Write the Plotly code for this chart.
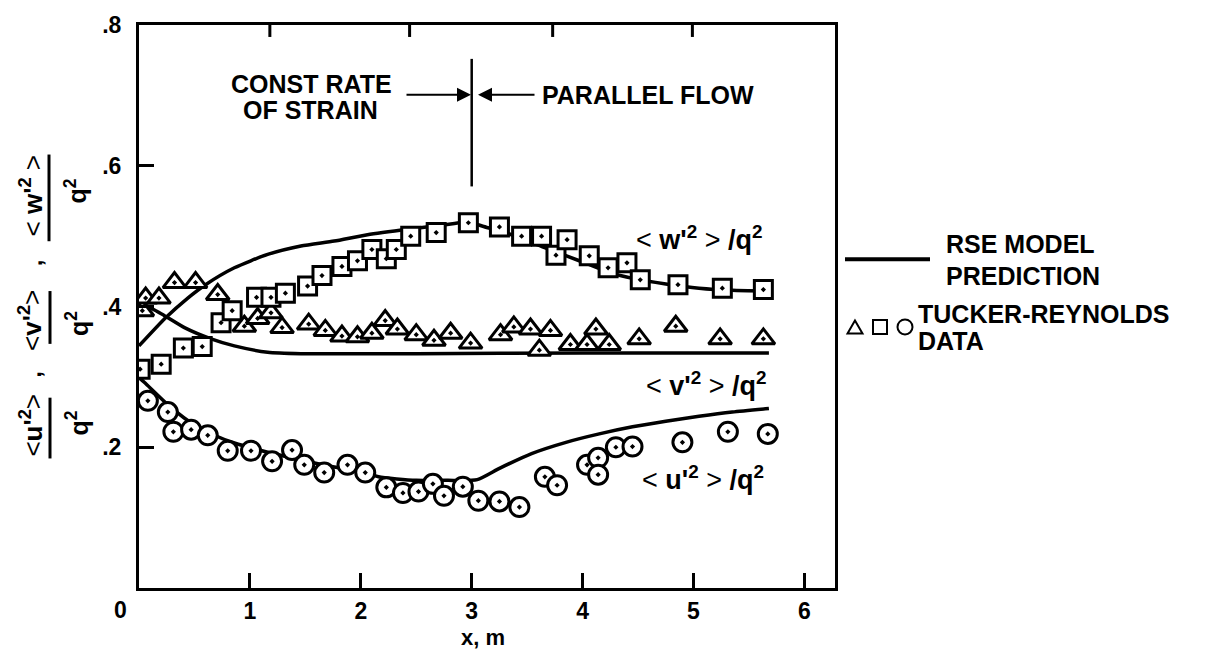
import plotly.graph_objects as go

# ---- measured data (x in metres, y = normalised Reynolds stress) ----
TRI_X = [0.03, 0.06, 0.18, 0.32, 0.51, 0.71, 0.95, 1.07, 1.19, 1.29, 1.53, 1.68, 1.83, 1.97,
         2.10, 2.22, 2.33, 2.50, 2.66, 2.81, 2.99, 3.26, 3.38, 3.53, 3.61, 3.71, 3.89, 4.04,
         4.12, 4.24, 4.51, 4.84, 5.24, 5.63]
TRI_Y = [0.394, 0.412, 0.412, 0.434, 0.434, 0.417, 0.372, 0.383, 0.391, 0.370, 0.375, 0.366,
         0.358, 0.357, 0.362, 0.380, 0.368, 0.360, 0.352, 0.362, 0.348, 0.360, 0.371, 0.368,
         0.338, 0.366, 0.346, 0.346, 0.368, 0.346, 0.354, 0.372, 0.354, 0.354]

SQ_X = [0.01, 0.20, 0.40, 0.57, 0.74, 0.84, 1.06, 1.19, 1.32, 1.52, 1.65, 1.83, 1.97, 2.10,
        2.23, 2.32, 2.45, 2.68, 2.97, 3.25, 3.45, 3.63, 3.76, 3.86, 4.06, 4.23, 4.40, 4.52,
        4.86, 5.26, 5.63]
SQ_Y = [0.311, 0.318, 0.341, 0.343, 0.377, 0.394, 0.413, 0.413, 0.419, 0.429, 0.444, 0.457,
        0.465, 0.481, 0.468, 0.481, 0.500, 0.505, 0.519, 0.513, 0.500, 0.500, 0.473, 0.495,
        0.472, 0.455, 0.462, 0.438, 0.431, 0.426, 0.424]

CIR_X = [0.08, 0.26, 0.31, 0.47, 0.62, 0.80, 1.01, 1.20, 1.38, 1.49, 1.67, 1.88, 2.04, 2.23,
         2.38, 2.52, 2.65, 2.75, 2.92, 3.06, 3.25, 3.43, 3.66, 3.77, 4.04, 4.14, 4.14, 4.30,
         4.45, 4.90, 5.31, 5.67]
CIR_Y = [0.266, 0.250, 0.222, 0.225, 0.217, 0.195, 0.195, 0.180, 0.196, 0.175, 0.164, 0.175,
         0.164, 0.143, 0.135, 0.137, 0.148, 0.131, 0.144, 0.124, 0.123, 0.115, 0.158, 0.146,
         0.175, 0.185, 0.161, 0.200, 0.201, 0.207, 0.222, 0.219]

# RSE model prediction curves
W_X = [0.0, 0.24, 0.44, 0.60, 0.86, 1.16, 1.46, 1.76, 2.06, 2.44, 2.71, 2.97, 3.10, 3.34,
       3.67, 3.97, 4.27, 4.45, 4.75, 5.05, 5.35, 5.68]
W_Y = [0.344, 0.384, 0.412, 0.431, 0.455, 0.474, 0.486, 0.493, 0.502, 0.510, 0.515, 0.520,
       0.514, 0.503, 0.483, 0.465, 0.447, 0.440, 0.432, 0.426, 0.423, 0.422]

V_X = [0.0, 0.23, 0.41, 0.65, 0.86, 1.16, 1.46, 2.5, 4.0, 5.68]
V_Y = [0.407, 0.387, 0.370, 0.354, 0.344, 0.335, 0.333, 0.333, 0.334, 0.334]

U_X = [0.0, 0.05, 0.25, 0.44, 0.68, 0.86, 1.16, 1.46, 1.76, 2.06, 2.16, 2.50, 2.78, 3.05,
       3.25, 3.54, 3.85, 4.15, 4.45, 4.75, 5.05, 5.35, 5.68]
U_Y = [0.299, 0.292, 0.262, 0.238, 0.217, 0.206, 0.193, 0.182, 0.172, 0.164, 0.158, 0.153,
       0.153, 0.154, 0.170, 0.191, 0.207, 0.219, 0.229, 0.237, 0.244, 0.250, 0.255]

X_TICKS = [1, 2, 3, 4, 5, 6]
X_TICK_TEXT = ["1", "2", "3", "4", "5", "6"]
Y_TICKS = [0.2, 0.4, 0.6, 0.8]
Y_TICK_TEXT = [".2", ".4", ".6", ".8"]
TOP_TICKS = [1.18, 2.44, 3.73, 4.99]
DIVIDER_X = 3.0

# ---- page geometry (pixels) ----
W, H = 1220, 659
L, R, T, B = 139, 835, 23, 588
X_MAX = (R - L) / 110.9


def px(xp):
    return (xp - L) / (R - L)


def py(yp):
    return (B - yp) / (B - T)


FONT = "Liberation Sans, Arial, sans-serif"
BLACK = "black"

fig = go.Figure()

line_style = dict(color=BLACK, width=3.5, shape="spline", smoothing=0.6)
for xs, ys in ((W_X, W_Y), (V_X, V_Y), (U_X, U_Y)):
    fig.add_trace(go.Scatter(x=xs, y=ys, mode="lines", line=line_style,
                             hoverinfo="skip", showlegend=False))

marker_line = dict(color=BLACK, width=3)
fig.add_trace(go.Scatter(x=CIR_X, y=CIR_Y, mode="markers", showlegend=False,
                         marker=dict(symbol="circle-dot", size=19, color="white", line=marker_line)))
fig.add_trace(go.Scatter(x=TRI_X, y=TRI_Y, mode="markers", showlegend=False,
                         marker=dict(symbol="triangle-up-dot", size=20, color="white", line=marker_line)))
fig.add_trace(go.Scatter(x=SQ_X, y=SQ_Y, mode="markers", showlegend=False,
                         marker=dict(symbol="square-dot", size=18, color="white", line=marker_line)))

shapes = []
# divider between the two flow regimes
shapes.append(dict(type="line", xref="x", yref="paper", x0=DIVIDER_X, x1=DIVIDER_X,
                   y0=py(57), y1=py(185), line=dict(color=BLACK, width=2.5)))
# short ticks along the top edge
for tx in TOP_TICKS:
    shapes.append(dict(type="line", xref="x", yref="paper", x0=tx, x1=tx,
                       y0=1, y1=py(T + 12), line=dict(color=BLACK, width=3)))
# fraction bars of the y-axis title
for (xb, y0b, y1b) in ((49, 153, 240), (50, 290, 343), (50, 397, 458)):
    shapes.append(dict(type="line", xref="paper", yref="paper", x0=px(xb), x1=px(xb),
                       y0=py(y0b), y1=py(y1b), line=dict(color=BLACK, width=3)))
# key glyphs
shapes.append(dict(type="line", xref="paper", yref="paper", x0=px(845), x1=px(930),
                   y0=py(258), y1=py(258), line=dict(color=BLACK, width=4)))
tri = "M {:.4f} {:.4f} L {:.4f} {:.4f} L {:.4f} {:.4f} Z".format(
    px(847.5), py(332.5), px(862.5), py(332.5), px(855), py(319.5))
shapes.append(dict(type="path", xref="paper", yref="paper", path=tri,
                   line=dict(color=BLACK, width=2)))
shapes.append(dict(type="rect", xref="paper", yref="paper", x0=px(873), x1=px(887),
                   y0=py(333), y1=py(319), line=dict(color=BLACK, width=2)))
shapes.append(dict(type="circle", xref="paper", yref="paper", x0=px(897.5), x1=px(912.5),
                   y0=py(333.5), y1=py(318.5), line=dict(color=BLACK, width=2)))

ann = []


def text(t, xp, yp, size, xanchor="left", angle=0, weight="bold"):
    ann.append(dict(text=t, xref="paper", yref="paper", x=px(xp), y=py(yp),
                    xanchor=xanchor, yanchor="middle", showarrow=False, textangle=angle,
                    font=dict(family=FONT, size=size, color=BLACK, weight=weight)))


text("CONST RATE", 311, 82, 25, "center")
text("OF STRAIN", 310, 108, 25, "center")
text("PARALLEL FLOW", 540, 93, 25, "left")

text("&lt; <b>w'<sup>2</sup></b> &gt; <b>/q<sup>2</sup></b>", 634, 237, 27, "left", weight="normal")
text("&lt; <b>v'<sup>2</sup></b> &gt; <b>/q<sup>2</sup></b>", 644, 383, 27, "left", weight="normal")
text("&lt; <b>u'<sup>2</sup></b> &gt; <b>/q<sup>2</sup></b>", 640, 478, 27, "left", weight="normal")

text("RSE MODEL", 944, 243, 25)
text("PREDICTION", 944, 275, 25)
text("TUCKER-REYNOLDS", 916, 313, 25)
text("DATA", 916, 340, 25)

text("x, m", 483, 638, 22, "center")
text("0", 120, 610, 23, "center")

# y-axis title: three stacked fractions
text("&lt; <b>w'<sup>2</sup></b> &gt;", 31, 195, 26, "center", -90, "normal")
text("q<sup>2</sup>", 76, 190, 25, "center", -90)
text(",", 33, 262, 24, "center", -90)
text("&lt;<b>v'<sup>2</sup></b>&gt;", 31, 320, 26, "center", -90, "normal")
text("q<sup>2</sup>", 77, 323, 25, "center", -90)
text(",", 33, 374, 24, "center", -90)
text("&lt;<b>u'<sup>2</sup></b>&gt;", 32, 425, 26, "center", -90, "normal")
text("q<sup>2</sup>", 77, 423, 25, "center", -90)

# arrows converging on the divider
ann.append(dict(xref="paper", yref="paper", x=px(471), y=py(93), ax=-66, ay=0, text="",
                showarrow=True, arrowhead=2, arrowsize=1.4, arrowwidth=2, arrowcolor=BLACK))
ann.append(dict(xref="paper", yref="paper", x=px(478), y=py(93), ax=58, ay=0, text="",
                showarrow=True, arrowhead=2, arrowsize=1.4, arrowwidth=2, arrowcolor=BLACK))

axis_common = dict(showline=True, linewidth=3, linecolor=BLACK, mirror=True,
                   ticks="inside", ticklen=15, tickwidth=3, tickcolor=BLACK,
                   showgrid=False, zeroline=False,
                   tickfont=dict(family=FONT, size=23, color=BLACK, weight="bold"))

fig.update_layout(
    width=W, height=H, autosize=False,
    margin=dict(l=L, r=W - R, t=T, b=H - B, pad=0),
    paper_bgcolor="white", plot_bgcolor="white",
    xaxis=dict(range=[0, X_MAX], tickvals=X_TICKS, ticktext=X_TICK_TEXT,
               ticklabelstandoff=0, **axis_common),
    yaxis=dict(range=[0, 0.8], tickvals=Y_TICKS, ticktext=Y_TICK_TEXT,
               ticklabelstandoff=10, **axis_common),
    shapes=shapes, annotations=ann, showlegend=False,
)

fig.write_html("out.html")
